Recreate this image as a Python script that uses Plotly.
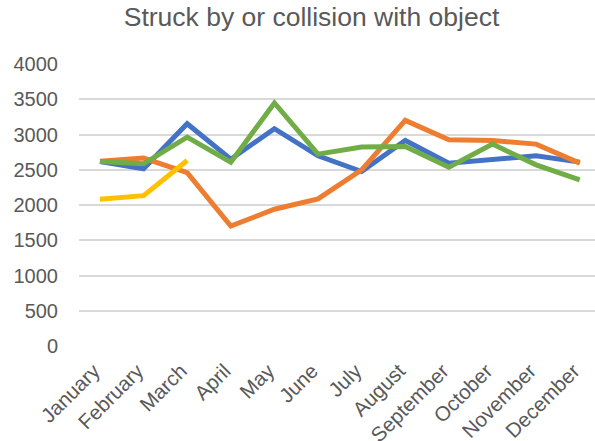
import plotly.graph_objects as go

months = ["January", "February", "March", "April", "May", "June", "July",
          "August", "September", "October", "November", "December"]
series_blue = [2617, 2513, 3153, 2650, 3082, 2698, 2475, 2915, 2594, 2641, 2698, 2608]
series_orange = [2620, 2665, 2460, 1702, 1940, 2086, 2498, 3200, 2925, 2915, 2864, 2594]
series_green = [2617, 2584, 2963, 2608, 3447, 2722, 2821, 2830, 2537, 2864, 2570, 2356]
series_yellow = [2082, 2133, 2631]

colors = ["#4472C4", "#ED7D31", "#70AD47", "#FFC000"]
data = [series_blue, series_orange, series_green, series_yellow]

x_idx = list(range(len(months)))
fig = go.Figure()
for vals, c in zip(data, colors):
    fig.add_trace(go.Scatter(x=x_idx[:len(vals)], y=vals, mode="lines",
                             line=dict(color=c, width=5), showlegend=False,
                             hoverinfo="skip"))

font_fam = "Liberation Sans, Arial, sans-serif"
fig.update_layout(
    width=595, height=441,
    margin=dict(l=79, r=0, t=64, b=95, autoexpand=False),
    paper_bgcolor="white", plot_bgcolor="white",
    title=dict(text="Struck by or collision with object", x=311.5 / 595, xanchor="center",
               y=1 - 17 / 441, yanchor="middle", yref="container",
               font=dict(family=font_fam, size=26.5, color="#595959")),
    xaxis=dict(range=[-0.48, 11.35], tickmode="array", tickvals=x_idx, ticktext=months,
               tickangle=-45, showgrid=False, zeroline=False, showline=False,
               automargin=False, ticks="", ticklabelshift=-6, ticklabelstandoff=8,
               tickfont=dict(family=font_fam, size=20.5, color="#595959")),
    yaxis=dict(range=[0, 4000], dtick=500, showgrid=True, gridcolor="#D9D9D9",
               gridwidth=1.5, zeroline=False, showline=False, ticks="",
               automargin=False, ticklabelstandoff=20,
               tickfont=dict(family=font_fam, size=20, color="#595959")),
)
fig.write_html("out.html", config={"displayModeBar": False},
               post_script="document.body.style.margin='0';document.body.style.overflow='hidden';")
